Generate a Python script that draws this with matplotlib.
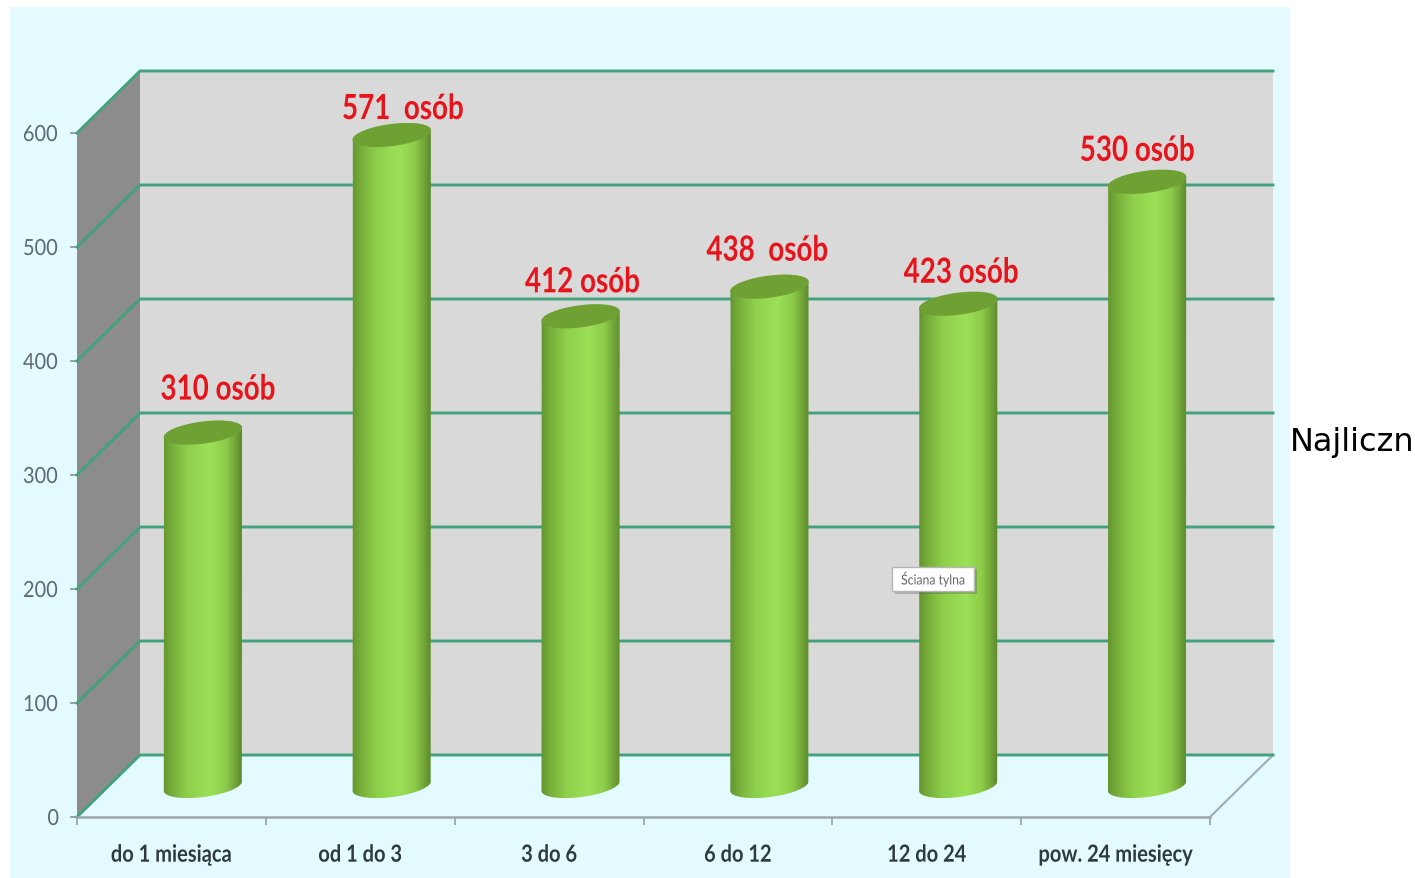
import numpy as np
import matplotlib
matplotlib.use('Agg')
import matplotlib.pyplot as plt
import matplotlib.patheffects as pe
from matplotlib.colors import LinearSegmentedColormap
from matplotlib.patches import Polygon, Rectangle
from matplotlib.transforms import Affine2D

categories = ['do 1 miesiąca', 'od 1 do 3', '3 do 6', '6 do 12', '12 do 24', 'pow. 24 miesięcy']
values = [310, 571, 412, 438, 423, 530]
value_labels = ['310 osób', '571  osób', '412 osób', '438  osób', '423 osób', '530 osób']
y_ticks = [0, 100, 200, 300, 400, 500, 600]

W, H = 1415, 879
LEFT, RIGHT, TOP, BOTTOM = 77, 1210, 134, 818
DEPTH_X, DEPTH_Y = 63, 62  # pixels the back wall is shifted by
FONT = ['Lato', 'DejaVu Sans']


class Narrow(pe.AbstractPathEffect):
    # squeezes a text horizontally around its own centre, no condensed font is installed
    def __init__(self, factor):
        super().__init__()
        self.factor = factor

    def draw_path(self, renderer, gc, tpath, affine, rgbFace=None):
        box = tpath.get_extents()
        mid = (box.x0 + box.x1) / 2
        squeeze = Affine2D().translate(-mid, 0).scale(self.factor, 1).translate(mid, 0)
        renderer.draw_path(gc, tpath, squeeze + affine, rgbFace)


fig = plt.figure(figsize=(W / 100, H / 100), dpi=100, facecolor='white')
fig.add_artist(Rectangle((10 / W, 0), 1280 / W, 871 / H, transform=fig.transFigure,
                         facecolor='#e3fbfe', edgecolor='none', zorder=-5))
ax = fig.add_axes([LEFT / W, 1 - BOTTOM / H, (RIGHT - LEFT) / W, (BOTTOM - TOP) / H])
ax.patch.set_visible(False)
ax.set_xlim(0, len(categories))
ax.set_ylim(0, 600)

# data units per pixel
ux = len(categories) / (RIGHT - LEFT)
uy = 600 / (BOTTOM - TOP)
dx, dy = DEPTH_X * ux, DEPTH_Y * uy
x_end = len(categories)

# walls
ax.add_patch(Polygon([(dx, dy), (x_end + dx, dy), (x_end + dx, 600 + dy), (dx, 600 + dy)],
                     facecolor='#d9d9d9', edgecolor='none', clip_on=False, zorder=1))
ax.add_patch(Polygon([(0, 0), (dx, dy), (dx, 600 + dy), (0, 600)],
                     facecolor='#8c8c8c', edgecolor='none', clip_on=False, zorder=1))
ax.plot([x_end, x_end + dx], [0, dy], color='#a3b0b3', lw=1.6, clip_on=False, zorder=2)

# grid lines on the side and back walls
for v in y_ticks:
    ax.plot([0, dx, x_end + dx], [v, v + dy, v + dy], color='#43a27c', lw=2.1,
            clip_on=False, zorder=2, solid_joinstyle='miter')

# cylinders
cyl_cmap = LinearSegmentedColormap.from_list('cyl', [
    (0.0, '#64952e'), (0.12, '#78b03b'), (0.32, '#8fd04c'), (0.6, '#9ce057'),
    (0.8, '#8ccb49'), (0.93, '#6f9f35'), (1.0, '#5a8a2c')])
grad = np.linspace(0, 1, 256).reshape(1, -1)
rx, ry, tilt = 39.5, 11, np.radians(7.5)
t = np.linspace(0, 2 * np.pi, 121)
ex = (rx * np.cos(t) * np.cos(tilt) - ry * np.sin(t) * np.sin(tilt)) * ux
ey = (rx * np.cos(t) * np.sin(tilt) + ry * np.sin(t) * np.cos(tilt)) * uy
label_dx = [15, 11, 2, -2, 3, -10]
label_dy = [43, 26, 34, 36, 31, 31]

for i, v in enumerate(values):
    cx = i + 0.5 + dx / 2
    y0, y1 = dy / 2, v + dy / 2
    # outline: lower half of the base ellipse, then upper half of the top ellipse
    lower = (t >= np.pi - 0.13) & (t <= 2 * np.pi - 0.13)
    upper_order = np.r_[np.where(t > 2 * np.pi - 0.13)[0], np.where(t < np.pi - 0.13)[0]]
    body_x = np.r_[cx + ex[lower], cx + ex[upper_order]]
    body_y = np.r_[y0 + ey[lower], y1 + ey[upper_order]]
    body = Polygon(np.c_[body_x, body_y], facecolor='none', edgecolor='none',
                   clip_on=False, zorder=3)
    ax.add_patch(body)
    im = ax.imshow(grad, cmap=cyl_cmap, aspect='auto', zorder=3, interpolation='bilinear',
                   extent=(cx - rx * ux, cx + rx * ux, y0 - 20 * uy, y1 + 20 * uy))
    im.set_clip_box(fig.bbox)
    im.set_clip_path(body)
    ax.fill(cx + ex, y1 + ey, color='#6fa034', lw=0, clip_on=False, zorder=4)
    ax.annotate(value_labels[i], (cx, y1), xytext=(label_dx[i], label_dy[i]),
                textcoords='offset pixels', ha='center', va='center', color='#e8141c',
                fontsize=25, fontweight='bold', family=FONT, zorder=6, annotation_clip=False,
                path_effects=[Narrow(0.8)])

ax.set_xlim(0, len(categories))
ax.set_ylim(0, 600)

# axes
for side in ['top', 'right', 'left']:
    ax.spines[side].set_visible(False)
ax.spines['bottom'].set_color('#9aa8aa')
ax.spines['bottom'].set_linewidth(1.8)
ax.spines['bottom'].set_zorder(5)
ax.set_yticks(y_ticks)
ax.set_xticks(range(len(categories) + 1))
ax.set_xticklabels([])
ax.set_xticks(np.arange(len(categories)) + 0.5, minor=True)
ax.set_xticklabels(categories, minor=True, family=FONT, fontsize=17, fontweight='bold',
                   color='#2f3a3a', path_effects=[Narrow(0.85)])
ax.tick_params(axis='x', which='major', length=6, width=1.3, color='#9aa8aa')
ax.tick_params(axis='x', which='minor', length=0, pad=18.5)
ax.tick_params(axis='y', length=5, width=1.3, color='#8f9c9e', pad=7.5, labelcolor='#5d6b6e')
for lab in ax.get_yticklabels():
    lab.set_family(FONT)
    lab.set_fontsize(16)
    lab.set_path_effects([Narrow(0.9)])

# tooltip left in the source picture
tip = ax.text(0.7555, (BOTTOM - 580) / (BOTTOM - TOP), 'Ściana tylna', transform=ax.transAxes,
              ha='center', va='center', fontsize=10, family=FONT, color='#5f6768', zorder=7,
              path_effects=[Narrow(0.88)],
              bbox=dict(boxstyle='square,pad=0.35', facecolor='white', edgecolor='#b5b5b5', lw=1))
tip.get_bbox_patch().set_path_effects([pe.withSimplePatchShadow(offset=(2, -2), alpha=0.3)])

fig.text(1290 / W, 1 - 443 / H, 'Najliczn', fontsize=23, family='DejaVu Sans', color='black',
         va='center', ha='left')

fig.savefig('out.png', dpi=100)
